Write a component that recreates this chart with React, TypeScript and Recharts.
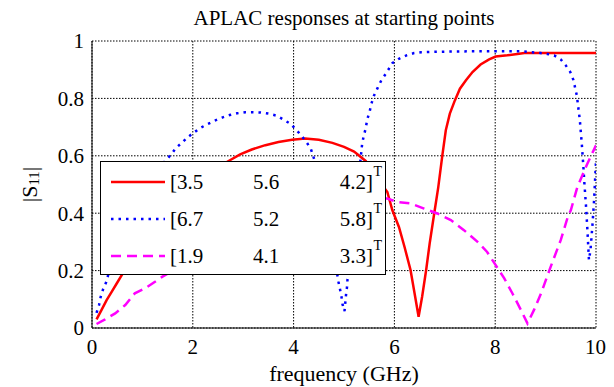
import React from 'react';
import { LineChart, Line, XAxis, YAxis, CartesianGrid, Legend } from 'recharts';

const redFreq = [0.09, 0.19, 0.29, 0.39, 0.49, 0.59, 1.0, 1.5, 2.0, 2.4, 2.71, 2.94, 3.17, 3.44, 3.7, 3.97, 4.23, 4.5, 4.77, 5.0, 5.2, 5.43, 5.6, 5.75, 5.86, 5.96, 6.09, 6.2, 6.32, 6.4, 6.48, 6.55, 6.63, 6.7, 6.79, 6.87, 6.95, 7.02, 7.1, 7.2, 7.3, 7.42, 7.55, 7.71, 7.88, 8.01, 8.24, 8.44, 8.58, 9.0, 9.5, 10.0];
const redS11 = [0.03, 0.063, 0.097, 0.126, 0.155, 0.184, 0.3, 0.42, 0.5, 0.55, 0.582, 0.605, 0.622, 0.637, 0.648, 0.656, 0.66, 0.656, 0.645, 0.631, 0.615, 0.582, 0.54, 0.5, 0.474, 0.41, 0.352, 0.283, 0.202, 0.121, 0.039, 0.109, 0.202, 0.295, 0.399, 0.49, 0.6, 0.689, 0.747, 0.793, 0.834, 0.863, 0.892, 0.918, 0.936, 0.946, 0.95, 0.955, 0.958, 0.958, 0.958, 0.958];

const blueFreq = [0.09, 0.14, 0.17, 0.22, 0.28, 0.32, 0.5, 0.8, 1.1, 1.3, 1.45, 1.57, 1.66, 1.78, 1.89, 1.99, 2.15, 2.29, 2.43, 2.58, 2.73, 2.88, 3.04, 3.19, 3.35, 3.5, 3.66, 3.8, 3.94, 4.05, 4.15, 4.25, 4.34, 4.39, 4.5, 4.65, 4.78, 4.89, 4.92, 4.95, 4.97, 5.01, 5.04, 5.06, 5.07, 5.15, 5.25, 5.33, 5.36, 5.39, 5.43, 5.46, 5.51, 5.54, 5.59, 5.66, 5.74, 5.83, 5.96, 6.09, 6.24, 6.39, 6.53, 6.7, 7.0, 7.5, 8.0, 8.55, 8.71, 8.87, 9.03, 9.17, 9.3, 9.4, 9.49, 9.55, 9.62, 9.68, 9.72, 9.75, 9.77, 9.8, 9.83, 9.86, 9.89, 9.93, 9.96, 10.0];
const blueS11 = [0.053, 0.08, 0.107, 0.135, 0.159, 0.184, 0.28, 0.4, 0.49, 0.54, 0.582, 0.604, 0.626, 0.645, 0.663, 0.677, 0.697, 0.71, 0.722, 0.733, 0.742, 0.748, 0.752, 0.752, 0.751, 0.747, 0.74, 0.726, 0.711, 0.691, 0.671, 0.649, 0.625, 0.599, 0.53, 0.41, 0.28, 0.161, 0.136, 0.109, 0.083, 0.059, 0.115, 0.143, 0.17, 0.3, 0.47, 0.59, 0.642, 0.668, 0.695, 0.726, 0.755, 0.779, 0.808, 0.834, 0.863, 0.886, 0.923, 0.938, 0.95, 0.958, 0.961, 0.962, 0.963, 0.964, 0.964, 0.964, 0.961, 0.959, 0.955, 0.95, 0.936, 0.915, 0.892, 0.865, 0.81, 0.723, 0.637, 0.561, 0.503, 0.43, 0.34, 0.237, 0.27, 0.36, 0.44, 0.58];

const magentaFreq = [0.09, 0.26, 0.46, 0.66, 0.85, 1.05, 1.25, 1.39, 2.0, 2.5, 3.0, 3.5, 4.0, 4.5, 5.0, 5.5, 5.86, 6.06, 6.32, 6.59, 6.85, 7.12, 7.38, 7.65, 7.84, 8.01, 8.18, 8.34, 8.51, 8.64, 8.77, 8.91, 9.1, 9.3, 9.44, 9.5, 9.63, 9.83, 10.0];
const magentaS11 = [0.014, 0.03, 0.051, 0.08, 0.121, 0.138, 0.161, 0.178, 0.24, 0.29, 0.33, 0.37, 0.4, 0.425, 0.44, 0.45, 0.451, 0.439, 0.434, 0.416, 0.399, 0.376, 0.341, 0.3, 0.265, 0.219, 0.173, 0.121, 0.063, 0.016, 0.063, 0.121, 0.213, 0.306, 0.387, 0.41, 0.491, 0.573, 0.637];

const xTicks = [0, 2, 4, 6, 8, 10];
const yTicks = [0, 0.2, 0.4, 0.6, 0.8, 1];
const startA = ['3.5', '5.6', '4.2'];
const startB = ['6.7', '5.2', '5.8'];
const startC = ['1.9', '4.1', '3.3'];

const titleText = 'APLAC responses at starting points';
const xLabelText = 'frequency (GHz)';

const toRows = (fs: number[], vs: number[]) => fs.map((f, i) => ({ f, v: vs[i] }));
const redData = toRows(redFreq, redS11);
const blueData = toRows(blueFreq, blueS11);
const magentaData = toRows(magentaFreq, magentaS11);

const series = [
  { key: 'red', data: redData, color: '#ff0000', dash: undefined as string | undefined, width: 2.5, vec: startA },
  { key: 'blue', data: blueData, color: '#0000ff', dash: '2.5 5', width: 2.5, vec: startB },
  { key: 'magenta', data: magentaData, color: '#ff00ff', dash: '10 6', width: 2.5, vec: startC },
];

const FONT = 'Liberation Serif, DejaVu Serif, Noto Serif, serif';

const LegendBox = () => (
  <div
    style={{
      width: 286,
      height: 114,
      boxSizing: 'border-box',
      border: '1.5px solid #000',
      background: '#fff',
      position: 'relative',
      fontFamily: FONT,
      fontSize: 21,
      color: '#000',
    }}
  >
    {series.map((s, i) => {
      const cy = 20 + i * 37;
      return (
        <div key={s.key} style={{ position: 'absolute', left: 0, top: cy - 14, width: 286, height: 28 }}>
          <svg width={60} height={28} style={{ position: 'absolute', left: 8, top: 0 }}>
            <line x1={2} y1={14} x2={56} y2={14} stroke={s.color} strokeWidth={s.width} strokeDasharray={s.dash} />
          </svg>
          <span style={{ position: 'absolute', left: 69, top: 0, lineHeight: '28px' }}>[{s.vec[0]}</span>
          <span style={{ position: 'absolute', left: 152, top: 0, lineHeight: '28px' }}>{s.vec[1]}</span>
          <span style={{ position: 'absolute', right: 14, top: 0, lineHeight: '28px' }}>
            {s.vec[2]}]
          </span>
          <span style={{ position: 'absolute', right: 5, top: -6, fontSize: 14, lineHeight: '20px' }}>T</span>
        </div>
      );
    })}
  </div>
);

const YLabel = (props: any) => {
  const vb = props.viewBox || { x: 24, y: 33, width: 60, height: 287 };
  const cx = vb.x - 3;
  const cy = vb.y + vb.height / 2;
  return (
    <text
      x={cx}
      y={cy}
      transform={`rotate(-90, ${cx}, ${cy})`}
      textAnchor="middle"
      dominantBaseline="central"
      fontFamily={FONT}
      fontSize={22}
      fill="#000"
    >
      |S<tspan dy={5} fontSize={15}>11</tspan>
      <tspan dy={-5}>|</tspan>
    </text>
  );
};

const XLabel = (props: any) => {
  const vb = props.viewBox || { x: 84, y: 320, width: 504, height: 50 };
  return (
    <text
      x={vb.x + vb.width / 2}
      y={vb.y + 45}
      textAnchor="middle"
      dominantBaseline="central"
      fontFamily={FONT}
      fontSize={22}
      fill="#000"
    >
      {xLabelText}
    </text>
  );
};

export default function App() {
  return (
    <div style={{ position: 'relative', width: 598, height: 379, fontFamily: FONT }}>
      <LineChart width={598} height={379} margin={{ top: 33, right: 10, bottom: 9, left: 24 }}>
        <CartesianGrid stroke="#000" strokeDasharray="1.5 1.5" strokeWidth={1} />
        <XAxis
          type="number"
          dataKey="f"
          domain={[0, 10]}
          ticks={xTicks}
          allowDataOverflow
          height={50}
          tickLine={false}
          tickSize={0}
          tickMargin={11}
          axisLine={{ stroke: '#000', strokeWidth: 1 }}
          tick={{ fill: '#000', fontSize: 21, fontFamily: FONT }}
          label={<XLabel />}
        />
        <YAxis
          type="number"
          dataKey="v"
          domain={[0, 1]}
          ticks={yTicks}
          allowDataOverflow
          width={60}
          tickLine={false}
          tickSize={0}
          tickMargin={8}
          axisLine={{ stroke: '#000', strokeWidth: 1 }}
          tick={{ fill: '#000', fontSize: 21, fontFamily: FONT }}
          label={<YLabel />}
        />
        {series.map((s) => (
          <Line
            key={s.key}
            data={s.data}
            dataKey="v"
            type="linear"
            stroke={s.color}
            strokeWidth={s.width}
            strokeDasharray={s.dash}
            dot={false}
            activeDot={false}
            isAnimationActive={false}
          />
        ))}
        <Legend
          layout="vertical"
          align="center"
          verticalAlign="middle"
          content={() => <LegendBox />}
          wrapperStyle={{ position: 'absolute', left: 92, top: 153, width: 286, height: 114 }}
        />
      </LineChart>
      <div
        style={{
          position: 'absolute',
          top: 0,
          left: 84,
          width: 504,
          textAlign: 'center',
          fontSize: 21,
          lineHeight: '20px',
          color: '#000',
        }}
      >
        {titleText}
      </div>
    </div>
  );
}
